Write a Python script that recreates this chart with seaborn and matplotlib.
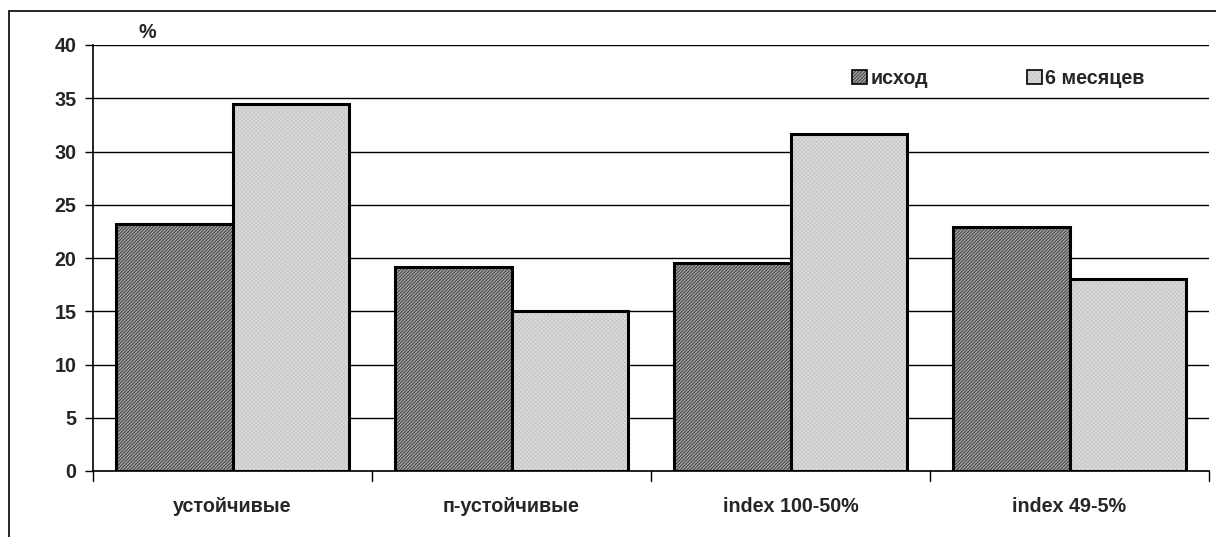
import matplotlib
matplotlib.use("Agg")
import matplotlib.pyplot as plt
from matplotlib.colors import to_rgba
from matplotlib.patches import Patch, Rectangle
import seaborn as sns
import pandas as pd

categories = ["устойчивые", "п-устойчивые", "index 100-50%", "index 49-5%"]
series_names = ["исход", "6 месяцев"]
baseline = [23.2, 19.2, 19.5, 22.9]
six_months = [34.5, 15.0, 31.6, 18.0]
y_ticks = [0, 5, 10, 15, 20, 25, 30, 35, 40]

df = pd.DataFrame({
    "group": categories * 2,
    "series": [series_names[0]] * 4 + [series_names[1]] * 4,
    "value": baseline + six_months,
})

sns.set_theme(style="white")
plt.rcParams["font.family"] = ["Liberation Sans", "DejaVu Sans"]
plt.rcParams["hatch.linewidth"] = 0.6

FS = 14.2

fig = plt.figure(figsize=(12.16, 5.37), dpi=100)
ax = fig.add_axes([93 / 1216, 1 - 471 / 537, (1209 - 93) / 1216, (471 - 45) / 537])

styles = {
    series_names[0]: dict(face="#a0a0a0", hatch="//////////", hcolor="#333333"),
    series_names[1]: dict(face="#dcdcdc", hatch="xxxxxxxx", hcolor="#c8c8c8"),
}


def apply_style(patch, st, lw):
    patch.set_facecolor(st["face"])
    patch.set_edgecolor("black")
    patch.set_linewidth(lw)
    patch.set_hatch(st["hatch"])
    if hasattr(patch, "set_hatchcolor"):
        patch.set_hatchcolor(st["hcolor"])
    else:
        patch._hatch_color = to_rgba(st["hcolor"])


sns.barplot(data=df, x="group", y="value", hue="series", order=categories,
            hue_order=series_names, width=0.832, gap=0, ax=ax,
            edgecolor="black", linewidth=2.2, legend=False, zorder=3,
            palette=[styles[s]["face"] for s in series_names])

for container, name in zip(ax.containers, series_names):
    for bar in container:
        apply_style(bar, styles[name], 2.2)

ax.set_ylim(0, 40)
ax.set_xlim(-0.5, 3.5)
ax.set_yticks(y_ticks)
ax.set_yticklabels([str(t) for t in y_ticks], fontsize=FS, fontweight="bold")
ax.set_xticks(range(4))
ax.set_xticklabels(categories, fontsize=FS, fontweight="bold")
ax.tick_params(axis="x", length=0, pad=19)
ax.tick_params(axis="y", length=6, width=1, color="black", direction="out", left=True, pad=6)
for b in [-0.5, 0.5, 1.5, 2.5, 3.5]:
    ax.plot([b, b], [0, -0.9], color="black", lw=1, clip_on=False, zorder=4)

ax.yaxis.grid(True, color="black", lw=1)
ax.set_axisbelow(True)
for s in ["top", "right"]:
    ax.spines[s].set_visible(False)
for s in ["left", "bottom"]:
    ax.spines[s].set_color("black")
    ax.spines[s].set_linewidth(1.2)
ax.set_xlabel("")
ax.set_ylabel("")

ax.text(-0.306, 41.2, "%", fontsize=FS, fontweight="bold", ha="center", va="center")

handles = [Patch() for _ in series_names]
for h, n in zip(handles, series_names):
    apply_style(h, styles[n], 1.2)
leg = ax.legend(handles, series_names, loc="upper left", bbox_to_anchor=(0.664, 0.985),
                ncol=2, frameon=False, handlelength=0.75, handleheight=0.75,
                handletextpad=0.2, columnspacing=5.0,
                prop={"weight": "bold", "size": FS, "family": ["Liberation Sans", "DejaVu Sans"]})
for h, n in zip(leg.legend_handles, series_names):
    apply_style(h, styles[n], 1.2)

fig.patches.append(Rectangle((9 / 1216, -0.01), 1.0, 1 - 11 / 537 + 0.01,
                             transform=fig.transFigure, fill=False,
                             edgecolor="black", lw=1.2, zorder=0))

fig.savefig("out.png", dpi=100)
